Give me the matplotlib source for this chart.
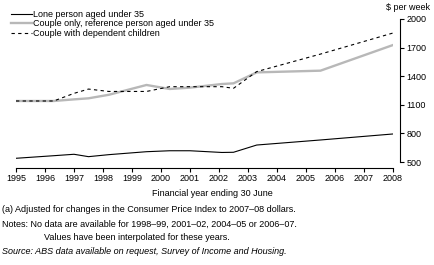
import matplotlib
matplotlib.use("Agg")
import matplotlib.pyplot as plt

# Data (fractional financial-year positions)
years = [1995, 1996.3, 1997, 1997.5, 1998.2, 1999.5, 2000.3, 2001, 2002.1, 2002.5, 2003.3, 2005.5, 2008]
lone_under35 = [539, 566, 581, 556, 577, 608, 618, 618, 600, 602, 678, 731, 794]
couple_only_under35 = [1140, 1140, 1157, 1168, 1205, 1308, 1266, 1280, 1318, 1325, 1440, 1458, 1727]
couple_children = [1140, 1140, 1220, 1265, 1240, 1240, 1290, 1290, 1290, 1273, 1448, 1632, 1853]
series_labels = ["Lone person aged under 35",
                 "Couple only, reference person aged under 35",
                 "Couple with dependent children"]
xticks = list(range(1995, 2009))
yticks = [500, 800, 1100, 1400, 1700, 2000]

plt.rcParams['font.family'] = ['Liberation Sans', 'DejaVu Sans']
FS = 6.5

fig = plt.figure(figsize=(4.35, 2.65), dpi=100)
W, H = 435, 265
l, r, t, b = 16, 393, 19, 162
ax = fig.add_axes([l / W, 1 - b / H, (r - l) / W, (b - t) / H])

ax.plot(years, couple_only_under35, color='#b8b8b8', lw=1.7, label=series_labels[1], zorder=2)
ax.plot(years, lone_under35, color='black', lw=0.8, label=series_labels[0], zorder=3)
ax.plot(years, couple_children, color='black', lw=0.8, ls=(0, (3, 3)), label=series_labels[2], zorder=3)

ax.set_xlim(1995, 2008)
ax.set_ylim(500, 2000)
for s in ['left', 'top']:
    ax.spines[s].set_visible(False)
ax.spines['bottom'].set_position(('outward', 4.3))
ax.spines['right'].set_position(('outward', 5))
for s in ['bottom', 'right']:
    ax.spines[s].set_linewidth(0.8)
ax.yaxis.tick_right()
ax.set_xticks(xticks)
ax.set_xticklabels([str(x) for x in xticks], fontsize=FS)
ax.set_yticks(yticks)
ax.set_yticklabels([str(y) for y in yticks], fontsize=FS)
ax.tick_params(axis='both', direction='out', length=3, width=0.8, pad=1.5)
ax.patch.set_visible(False)

handles, labs = ax.get_legend_handles_labels()
order = [1, 0, 2]
leg = fig.legend([handles[i] for i in order], [labs[i] for i in order],
                 loc='upper left', bbox_to_anchor=(11 / W, 1 - 10 / H), frameon=False,
                 fontsize=FS, handlelength=2.3, handletextpad=0.15, labelspacing=0.05,
                 borderaxespad=0, borderpad=0)

fig.text(430 / W, 1 - 8 / H, "$ per week", fontsize=FS, ha='right', va='center')
fig.text(212 / W, 1 - 193 / H, "Financial year ending 30 June", fontsize=FS, ha='center', va='center')
fig.text(2 / W, 1 - 209 / H, "(a) Adjusted for changes in the Consumer Price Index to 2007\u201308 dollars.",
         fontsize=FS, ha='left', va='center')
fig.text(2 / W, 1 - 224 / H, "Notes: No data are available for 1998\u201399, 2001\u201302, 2004\u201305 or 2006\u201307.",
         fontsize=FS, ha='left', va='center')
fig.text(44 / W, 1 - 237 / H, "Values have been interpolated for these years.",
         fontsize=FS, ha='left', va='center')
fig.text(2 / W, 1 - 251 / H, "Source: ABS data available on request, Survey of Income and Housing.",
         fontsize=FS, ha='left', va='center', style='italic')

fig.savefig("out.png", dpi=100)
